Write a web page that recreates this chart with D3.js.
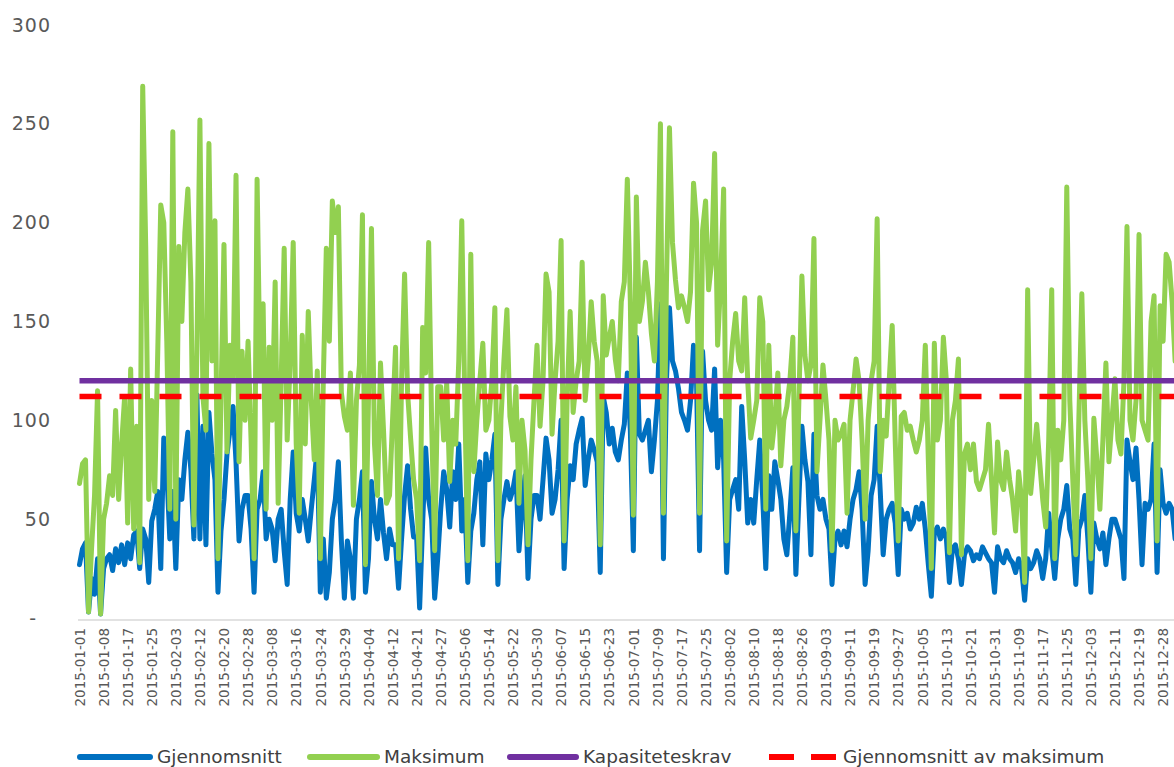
<!DOCTYPE html>
<html>
<head>
<meta charset="UTF-8">
<title>Gjennomsnitt og maksimum 2015</title>
<style>
  body { margin: 0; background: #fff; }
  svg text { font-family: "DejaVu Sans", sans-serif; }
</style>
</head>
<body>
<div id="chart"></div>
<script src="https://d3js.org/d3.v7.min.js"></script>
<script>
var width = 1174;
var height = 767;

// tick labels, one for every 8th day
var tickLabels = ["2015-01-01","2015-01-08","2015-01-17","2015-01-25","2015-02-03","2015-02-12",
  "2015-02-20","2015-02-28","2015-03-08","2015-03-16","2015-03-24","2015-03-29","2015-04-04",
  "2015-04-12","2015-04-21","2015-04-27","2015-05-06","2015-05-14","2015-05-22","2015-05-30",
  "2015-06-07","2015-06-15","2015-06-23","2015-07-01","2015-07-09","2015-07-17","2015-07-25",
  "2015-08-02","2015-08-10","2015-08-18","2015-08-26","2015-09-03","2015-09-11","2015-09-19",
  "2015-09-27","2015-10-05","2015-10-13","2015-10-21","2015-10-31","2015-11-09","2015-11-17",
  "2015-11-25","2015-12-03","2015-12-11","2015-12-19","2015-12-28"];

var yTicks = [0, 50, 100, 150, 200, 250, 300];

// Gjennomsnitt (daily average)
var gjennomsnitt = [
  27,35,38,3,20,12,30,2,
  25,30,32,24,35,28,37,27,
  38,30,42,44,25,45,40,18,
  49,55,64,25,91,74,40,64,
  25,70,60,80,94,75,40,113,
  40,97,37,104,83,70,13,44,
  60,83,95,107,79,39,55,62,
  62,45,13,55,60,74,40,50,
  45,29,50,55,34,17,60,84,
  53,44,60,50,39,55,70,86,
  13,40,10,23,50,60,79,39,
  10,39,30,10,50,60,74,13,
  30,69,50,40,60,43,30,45,
  37,37,15,40,62,77,55,41,
  41,5,48,86,60,50,10,30,
  55,74,65,46,74,60,88,44,
  60,18,44,53,70,79,37,83,
  70,80,93,17,50,60,69,60,
  65,74,34,55,72,20,50,62,
  62,50,70,91,80,53,60,75,
  100,25,60,77,70,88,95,101,
  67,80,90,85,79,23,112,104,
  88,96,84,80,90,98,124,95,
  34,142,93,90,95,100,74,90,
  110,159,30,120,157,130,125,116,
  104,100,95,110,138,120,34,135,
  110,100,95,126,76,100,80,23,
  60,65,70,55,107,80,48,60,
  48,70,90,60,25,72,55,79,
  70,60,40,32,53,76,22,60,
  97,80,69,32,93,62,55,60,
  50,45,17,40,44,37,44,36,
  50,60,65,74,55,17,34,62,
  70,97,65,32,50,55,58,48,
  22,55,50,53,45,48,56,50,
  58,45,27,11,43,46,40,45,
  40,18,35,37,30,17,32,36,
  34,29,32,30,36,33,30,28,
  13,36,30,28,34,30,28,23,
  30,25,9,30,25,28,34,30,
  20,30,53,35,20,40,50,55,
  67,45,40,17,45,50,62,40,
  13,48,40,35,43,27,40,50,
  50,45,40,20,90,79,70,86,
  60,27,58,55,60,88,23,75,
  58,53,58,55,40
];

// Maksimum (daily maximum)
var maksimum = [
  68,78,80,3,35,62,115,2,
  50,58,72,62,105,60,88,112,
  48,126,45,97,28,269,188,60,
  110,64,135,209,200,140,55,246,
  50,188,150,195,217,170,47,135,
  252,112,95,240,130,201,30,110,
  189,84,138,120,224,79,135,100,
  140,90,30,222,120,159,55,137,
  100,170,58,120,187,90,130,190,
  88,53,143,88,155,110,80,125,
  30,120,187,140,211,195,208,114,
  102,95,124,57,110,128,204,27,
  110,197,88,62,129,95,58,62,
  100,137,30,120,174,114,91,70,
  60,29,147,124,190,98,34,117,
  117,90,119,69,100,88,130,201,
  110,29,184,74,100,120,139,95,
  100,120,157,29,100,130,156,102,
  90,117,58,100,85,37,80,110,
  138,97,120,174,165,93,120,140,
  191,39,110,155,104,120,130,180,
  110,130,160,140,130,37,163,133,
  142,150,131,120,160,170,222,160,
  52,213,150,160,180,165,144,130,
  170,250,53,170,248,190,171,157,
  163,157,150,165,220,200,53,196,
  211,166,180,235,138,170,217,39,
  120,140,154,130,125,162,120,91,
  100,110,162,150,55,138,86,100,
  124,77,100,107,120,142,44,110,
  173,133,120,128,192,74,100,128,
  110,90,34,100,90,93,98,53,
  100,115,131,120,90,50,100,120,
  130,202,74,100,92,120,148,90,
  39,102,104,95,97,90,84,90,
  100,138,80,25,139,90,100,142,
  120,33,100,110,131,32,83,88,
  75,88,69,65,70,75,98,70,
  43,89,70,65,84,70,60,44,
  74,60,18,166,63,80,98,79,
  60,46,90,166,30,95,80,100,
  218,110,70,32,100,164,100,70,
  30,101,80,55,90,129,79,100,
  121,90,83,120,198,100,90,110,
  194,100,95,90,150,163,39,158,
  140,184,180,160,130
];

var kapasitetskrav = 120;
var snittAvMaks = 112;

var seriesNames = ["Gjennomsnitt", "Maksimum", "Kapasiteteskrav", "Gjennomsnitt av maksimum"];
var seriesColors = ["#0070C0", "#92D050", "#7030A0", "#FF0000"];

var svg = d3.select("#chart").append("svg")
    .attr("width", width)
    .attr("height", height);

var x = d3.scalePoint()
    .domain(d3.range(maksimum.length))
    .range([79.5, 79.5 + (maksimum.length - 1) * 3.01]);

var y = d3.scaleLinear()
    .domain([0, 300])
    .range([618, 25]);

// y axis, no line, "-" for zero
var yAxis = d3.axisLeft(y)
    .tickValues(yTicks)
    .tickSize(0)
    .tickPadding(0)
    .tickFormat(function(d){ return d === 0 ? "-" : d; });

var gy = svg.append("g")
    .attr("transform", "translate(51,0)")
    .call(yAxis);
gy.select(".domain").remove();
gy.selectAll("text")
    .attr("font-size", 19)
    .attr("letter-spacing", 1)
    .attr("fill", "#595959")
    .attr("dx", function(d){ return d === 0 ? -14 : 0; });

// x axis
var xAxis = d3.axisBottom(x)
    .tickValues(tickLabels.map(function(d, i){ return i * 8; }))
    .tickSize(0)
    .tickFormat(function(d){ return tickLabels[d / 8]; });

var gx = svg.append("g")
    .attr("transform", "translate(0,620)")
    .call(xAxis);
gx.select(".domain")
    .attr("d", "M78,0H" + width)
    .attr("stroke", "#D9D9D9")
    .attr("stroke-width", 1.5);
gx.selectAll("text")
    .attr("transform", "rotate(-90)")
    .attr("text-anchor", "end")
    .attr("x", -8)
    .attr("y", 0)
    .attr("dy", "0.35em")
    .attr("font-size", 13.5)
    .attr("fill", "#595959");

var line = d3.line()
    .x(function(d, i){ return x(i); })
    .y(function(d){ return y(d); });

svg.append("path")
    .datum(gjennomsnitt)
    .attr("d", line)
    .attr("fill", "none")
    .attr("stroke", seriesColors[0])
    .attr("stroke-width", 5)
    .attr("stroke-linejoin", "round")
    .attr("stroke-linecap", "round");

svg.append("path")
    .datum(maksimum)
    .attr("d", line)
    .attr("fill", "none")
    .attr("stroke", seriesColors[1])
    .attr("stroke-width", 5)
    .attr("stroke-linejoin", "round")
    .attr("stroke-linecap", "round");

svg.append("line")
    .attr("x1", x(0)).attr("x2", width)
    .attr("y1", y(kapasitetskrav)).attr("y2", y(kapasitetskrav))
    .attr("stroke", seriesColors[2])
    .attr("stroke-width", 5.5);

svg.append("line")
    .attr("x1", x(0)).attr("x2", width)
    .attr("y1", y(snittAvMaks)).attr("y2", y(snittAvMaks))
    .attr("stroke", seriesColors[3])
    .attr("stroke-width", 5.5)
    .attr("stroke-dasharray", "22,18");

// legend
var legendX = [80, 310, 510, 769];
var legendLen = [70, 67, 66, 67];
var legendY = 757;

var legend = svg.selectAll(".legend")
    .data(seriesNames)
    .enter()
    .append("g")
    .attr("class", "legend");

legend.append("line")
    .attr("x1", function(d, i){ return legendX[i]; })
    .attr("x2", function(d, i){ return legendX[i] + legendLen[i]; })
    .attr("y1", legendY)
    .attr("y2", legendY)
    .attr("stroke", function(d, i){ return seriesColors[i]; })
    .attr("stroke-width", 6)
    .attr("stroke-linecap", function(d, i){ return i === 3 ? "butt" : "round"; })
    .attr("stroke-dasharray", function(d, i){ return i === 3 ? "25,17" : null; });

legend.append("text")
    .attr("x", function(d, i){ return legendX[i] + legendLen[i] + 7; })
    .attr("y", legendY)
    .attr("dy", "0.35em")
    .attr("font-size", 18.5)
    .attr("fill", "#404040")
    .text(function(d){ return d; });
</script>
</body>
</html>
